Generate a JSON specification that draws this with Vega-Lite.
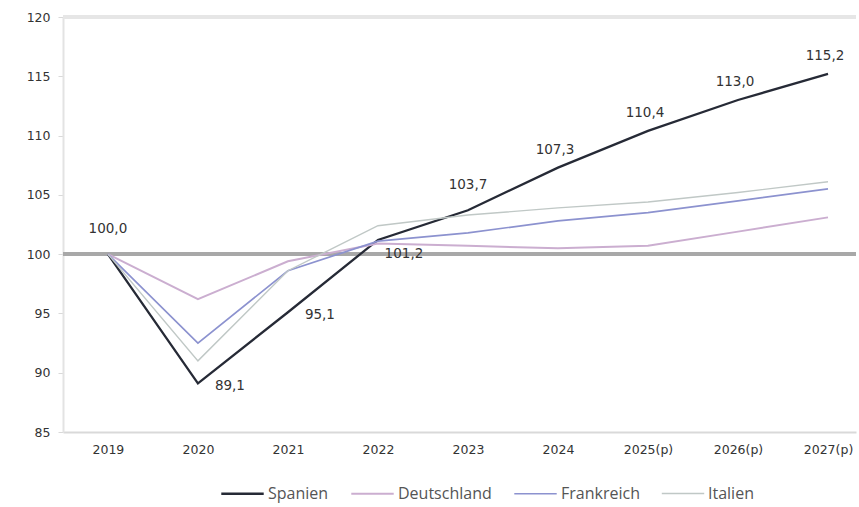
{
  "$schema": "https://vega.github.io/schema/vega-lite/v6.json",
  "width": 793,
  "height": 415,
  "autosize": {"type": "none"},
  "padding": {"left": 63, "top": 17, "right": 3, "bottom": 75},
  "background": "#ffffff",
  "config": {
    "view": {"stroke": null},
    "font": "DejaVu Sans",
    "locale": {"number": {"decimal": ",", "thousands": ".", "grouping": [3], "currency": ["", " €"]}}
  },
  "data": {
    "values": [
      {"year": "2019", "country": "Spanien", "value": 100.0},
      {"year": "2020", "country": "Spanien", "value": 89.1},
      {"year": "2021", "country": "Spanien", "value": 95.1},
      {"year": "2022", "country": "Spanien", "value": 101.2},
      {"year": "2023", "country": "Spanien", "value": 103.7},
      {"year": "2024", "country": "Spanien", "value": 107.3},
      {"year": "2025(p)", "country": "Spanien", "value": 110.4},
      {"year": "2026(p)", "country": "Spanien", "value": 113.0},
      {"year": "2027(p)", "country": "Spanien", "value": 115.2},
      {"year": "2019", "country": "Deutschland", "value": 100.0},
      {"year": "2020", "country": "Deutschland", "value": 96.2},
      {"year": "2021", "country": "Deutschland", "value": 99.4},
      {"year": "2022", "country": "Deutschland", "value": 100.9},
      {"year": "2023", "country": "Deutschland", "value": 100.7},
      {"year": "2024", "country": "Deutschland", "value": 100.5},
      {"year": "2025(p)", "country": "Deutschland", "value": 100.7},
      {"year": "2026(p)", "country": "Deutschland", "value": 101.9},
      {"year": "2027(p)", "country": "Deutschland", "value": 103.1},
      {"year": "2019", "country": "Frankreich", "value": 100.0},
      {"year": "2020", "country": "Frankreich", "value": 92.5},
      {"year": "2021", "country": "Frankreich", "value": 98.6},
      {"year": "2022", "country": "Frankreich", "value": 101.1},
      {"year": "2023", "country": "Frankreich", "value": 101.8},
      {"year": "2024", "country": "Frankreich", "value": 102.8},
      {"year": "2025(p)", "country": "Frankreich", "value": 103.5},
      {"year": "2026(p)", "country": "Frankreich", "value": 104.5},
      {"year": "2027(p)", "country": "Frankreich", "value": 105.5},
      {"year": "2019", "country": "Italien", "value": 100.0},
      {"year": "2020", "country": "Italien", "value": 91.0},
      {"year": "2021", "country": "Italien", "value": 98.6},
      {"year": "2022", "country": "Italien", "value": 102.4},
      {"year": "2023", "country": "Italien", "value": 103.3},
      {"year": "2024", "country": "Italien", "value": 103.9},
      {"year": "2025(p)", "country": "Italien", "value": 104.4},
      {"year": "2026(p)", "country": "Italien", "value": 105.2},
      {"year": "2027(p)", "country": "Italien", "value": 106.1}
    ]
  },
  "encoding": {
    "x": {
      "field": "year",
      "type": "ordinal",
      "sort": ["2019", "2020", "2021", "2022", "2023", "2024", "2025(p)", "2026(p)", "2027(p)"],
      "scale": {"type": "point", "padding": 0.405, "align": 0.616},
      "axis": {
        "title": null,
        "labelAngle": 0,
        "ticks": false,
        "domainColor": "#d9d9d9",
        "domainWidth": 2,
        "labelFont": "DejaVu Sans",
        "labelFontSize": 12.5,
        "labelColor": "#333333",
        "labelPadding": 11
      }
    },
    "y": {
      "field": "value",
      "type": "quantitative",
      "scale": {"domain": [85, 120], "nice": false, "zero": false},
      "axis": {
        "title": null,
        "values": [85, 90, 95, 100, 105, 110, 115, 120],
        "grid": false,
        "domainColor": "#e3e3e3",
        "domainWidth": 2,
        "tickColor": "#d9d9d9",
        "tickSize": 5,
        "labelPadding": 8,
        "labelFont": "DejaVu Sans",
        "labelFontSize": 12.5,
        "labelColor": "#333333"
      }
    }
  },
  "layer": [
    {
      "mark": {"type": "rule", "color": "#e6e6e6", "strokeWidth": 3},
      "encoding": {"y": {"datum": 120}, "x": null}
    },
    {
      "mark": {"type": "rule", "color": "#a8a8a8", "strokeWidth": 3},
      "encoding": {"y": {"datum": 100}, "x": null}
    },
    {
      "mark": {"type": "line", "strokeCap": "butt"},
      "encoding": {
        "color": {
          "field": "country",
          "type": "nominal",
          "sort": ["Spanien", "Deutschland", "Frankreich", "Italien"],
          "scale": {
            "domain": ["Spanien", "Deutschland", "Frankreich", "Italien"],
            "range": ["#262a36", "#cbaed0", "#8c92cf", "#c0c8c6"]
          },
          "legend": {
            "title": null,
            "orient": "none",
            "legendX": 157,
            "legendY": 454,
            "direction": "horizontal",
            "padding": 0,
            "symbolType": "stroke",
            "symbolSize": 1800,
            "symbolStrokeWidth": 1.8,
            "labelFont": "Open Sans",
            "labelFontSize": 16,
            "labelColor": "#555555",
            "labelOffset": 3,
            "columnPadding": 18
          }
        },
        "strokeWidth": {
          "field": "country",
          "type": "nominal",
          "scale": {
            "domain": ["Spanien", "Deutschland", "Frankreich", "Italien"],
            "range": [2.3, 1.4, 1.4, 1.4]
          },
          "legend": null
        },
        "zindex": {"field": "country", "type": "nominal"},
        "order": {"field": "year", "type": "ordinal"}
      }
    },
    {
      "transform": [
        {"filter": {"field": "country", "equal": "Spanien"}},
        {"filter": {"field": "year", "oneOf": ["2019", "2023"]}}
      ],
      "mark": {"type": "text", "dy": -25, "dx": 0, "font": "DejaVu Sans", "fontSize": 13.5, "color": "#333333"},
      "encoding": {"text": {"field": "value", "type": "quantitative", "format": ".1f"}}
    },
    {
      "transform": [
        {"filter": {"field": "country", "equal": "Spanien"}},
        {"filter": {"field": "year", "oneOf": ["2024", "2025(p)", "2026(p)", "2027(p)"]}}
      ],
      "mark": {"type": "text", "dy": -18, "dx": -3, "font": "DejaVu Sans", "fontSize": 13.5, "color": "#333333"},
      "encoding": {"text": {"field": "value", "type": "quantitative", "format": ".1f"}}
    },
    {
      "transform": [
        {"filter": {"field": "country", "equal": "Spanien"}},
        {"filter": {"field": "year", "oneOf": ["2020", "2021"]}}
      ],
      "mark": {"type": "text", "dx": 32, "dy": 3, "font": "DejaVu Sans", "fontSize": 13.5, "color": "#333333"},
      "encoding": {"text": {"field": "value", "type": "quantitative", "format": ".1f"}}
    },
    {
      "transform": [
        {"filter": {"field": "country", "equal": "Spanien"}},
        {"filter": {"field": "year", "equal": "2022"}}
      ],
      "mark": {"type": "text", "dx": 26, "dy": 14, "font": "DejaVu Sans", "fontSize": 13.5, "color": "#333333"},
      "encoding": {"text": {"field": "value", "type": "quantitative", "format": ".1f"}}
    }
  ]
}
